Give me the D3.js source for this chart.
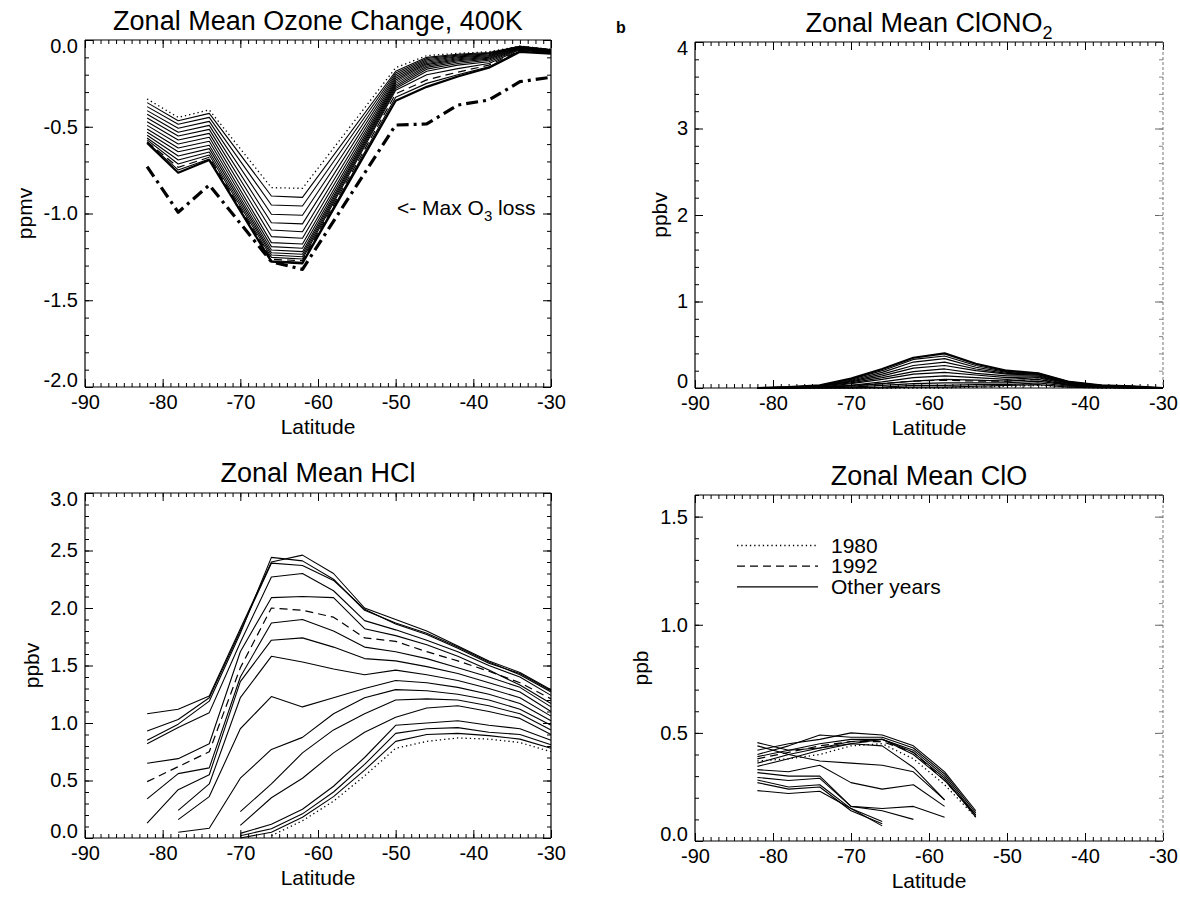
<!DOCTYPE html>
<html><head><meta charset="utf-8">
<script src="https://cdn.jsdelivr.net/npm/d3@7"></script>
<style>
body{margin:0;background:#fff;}
svg text{font-family:"Liberation Sans",Arial,Helvetica,sans-serif;fill:#000;}
</style></head>
<body><svg id="c" width="1180" height="897"></svg>
<script>
// ---------- shared ----------
const xTicks = [-90,-80,-70,-60,-50,-40,-30];

// ---------- Ozone change (ppmv) ----------
const ozoneLat = [-82,-78,-74,-66,-62,-50,-46,-42,-38,-34,-30];
const ozone1980 = [-0.34,-0.446,-0.403,-0.851,-0.855,-0.16,-0.09,-0.077,-0.068,-0.035,-0.054];
const ozone1992 = [-0.586,-0.734,-0.676,-1.264,-1.272,-0.31,-0.23,-0.185,-0.145,-0.06,-0.074];
const ozoneMaxLoss = [-0.73,-0.993,-0.836,-1.278,-1.322,-0.49,-0.484,-0.375,-0.346,-0.24,-0.215];
const ozoneOther = [
  [-0.361,-0.465,-0.423,-0.899,-0.907,-0.18,-0.10,-0.082,-0.072,-0.036,-0.055],
  [-0.384,-0.486,-0.446,-0.951,-0.957,-0.19,-0.107,-0.087,-0.076,-0.037,-0.056],
  [-0.407,-0.509,-0.469,-1.004,-1.010,-0.20,-0.114,-0.092,-0.080,-0.038,-0.057],
  [-0.428,-0.532,-0.492,-1.053,-1.060,-0.21,-0.121,-0.097,-0.085,-0.040,-0.058],
  [-0.450,-0.553,-0.515,-1.095,-1.105,-0.22,-0.128,-0.102,-0.090,-0.041,-0.060],
  [-0.471,-0.576,-0.538,-1.133,-1.143,-0.23,-0.135,-0.108,-0.095,-0.042,-0.061],
  [-0.492,-0.599,-0.561,-1.168,-1.176,-0.24,-0.142,-0.114,-0.100,-0.044,-0.062],
  [-0.513,-0.622,-0.584,-1.191,-1.200,-0.25,-0.150,-0.120,-0.105,-0.046,-0.064],
  [-0.532,-0.644,-0.607,-1.210,-1.220,-0.26,-0.158,-0.127,-0.110,-0.048,-0.066],
  [-0.549,-0.669,-0.626,-1.226,-1.235,-0.27,-0.168,-0.135,-0.117,-0.050,-0.068],
  [-0.565,-0.692,-0.646,-1.239,-1.249,-0.28,-0.180,-0.145,-0.125,-0.053,-0.070],
  [-0.576,-0.715,-0.663,-1.253,-1.262,-0.29,-0.200,-0.165,-0.135,-0.056,-0.072],
  [-0.590,-0.749,-0.686,-1.272,-1.281,-0.33,-0.250,-0.200,-0.155,-0.064,-0.076],
  [-0.594,-0.765,-0.692,-1.278,-1.287,-0.35,-0.270,-0.210,-0.160,-0.068,-0.078]
];

// ---------- ClONO2 (ppbv) ----------
const clono2Lat = [-82,-78,-74,-70,-66,-62,-58,-54,-50,-46,-42,-38,-34,-30];
const clono2_1980 = [0,0,0,0,0,0,0,0.01,0.02,0.03,0.01,0,0,0];
const clono2_1992 = [0,0,0.01,0.03,0.05,0.08,0.09,0.08,0.08,0.10,0.04,0.02,0.01,0];
const clono2Other = [
  [0.00,0.01,0.03,0.11,0.22,0.35,0.40,0.28,0.20,0.17,0.07,0.03,0.02,0.00],
  [0.00,0.01,0.03,0.10,0.20,0.33,0.37,0.26,0.19,0.17,0.07,0.03,0.02,0.00],
  [0.00,0.01,0.02,0.09,0.18,0.30,0.34,0.24,0.18,0.16,0.06,0.03,0.02,0.00],
  [0.00,0.01,0.02,0.08,0.16,0.26,0.30,0.22,0.17,0.16,0.06,0.03,0.01,0.00],
  [0.00,0.00,0.02,0.07,0.14,0.23,0.26,0.20,0.16,0.15,0.06,0.02,0.01,0.00],
  [0.00,0.00,0.02,0.06,0.12,0.19,0.22,0.17,0.14,0.14,0.05,0.02,0.01,0.00],
  [0.00,0.00,0.01,0.05,0.10,0.16,0.18,0.15,0.12,0.13,0.05,0.02,0.01,0.00],
  [0.00,0.00,0.01,0.03,0.07,0.12,0.14,0.12,0.10,0.12,0.04,0.02,0.01,0.00],
  [0.00,0.00,0.01,0.02,0.05,0.08,0.10,0.09,0.08,0.10,0.03,0.01,0.00,0.00],
  [0.00,0.00,0.00,0.01,0.03,0.05,0.06,0.06,0.06,0.08,0.03,0.01,0.00,0.00],
  [0.00,0.00,0.00,0.00,0.01,0.03,0.03,0.04,0.04,0.06,0.02,0.01,0.00,0.00],
  [0.00,0.00,0.00,0.00,0.00,0.01,0.01,0.02,0.03,0.04,0.01,0.00,0.00,0.00]
];

// ---------- HCl (ppbv) ----------
const hclLat = [-82,-78,-74,-70,-66,-62,-58,-54,-50,-46,-42,-38,-34,-30];
const hcl1980 = [null,null,null,null,0.02,0.15,0.32,0.54,0.78,0.84,0.87,0.86,0.83,0.75];
const hcl1992 = [0.49,0.62,0.75,1.48,2.00,1.98,1.92,1.74,1.71,1.62,1.54,1.45,1.35,1.21];
const hclOther = [
  [1.08,1.12,1.235,1.82,2.40,2.46,2.30,2.00,1.90,1.80,1.67,1.54,1.44,1.29],
  [0.93,1.03,1.22,1.80,2.39,2.37,2.24,1.99,1.86,1.77,1.65,1.52,1.43,1.28],
  [0.85,0.99,1.19,1.78,2.44,2.41,2.25,1.98,1.87,1.78,1.66,1.53,1.42,1.27],
  [0.82,0.96,1.09,1.70,2.27,2.30,2.15,1.89,1.81,1.72,1.62,1.50,1.40,1.24],
  [0.65,0.69,0.82,1.62,2.09,2.10,2.09,1.82,1.76,1.68,1.58,1.46,1.33,1.17],
  [0.34,0.56,0.61,1.40,1.87,1.90,1.80,1.66,1.62,1.56,1.48,1.40,1.31,1.14],
  [0.13,0.42,0.55,1.36,1.72,1.74,1.66,1.56,1.54,1.49,1.43,1.35,1.27,1.10],
  [null,0.24,0.47,1.22,1.58,1.53,1.47,1.42,1.46,1.42,1.37,1.30,1.22,1.06],
  [null,0.16,0.36,0.95,1.23,1.14,1.22,1.30,1.37,1.35,1.31,1.25,1.17,1.02],
  [null,0.05,0.085,0.52,0.77,0.875,1.08,1.22,1.29,1.28,1.25,1.20,1.12,0.98],
  [null,null,null,0.23,0.47,0.74,0.94,1.08,1.20,1.21,1.20,1.15,1.08,0.94],
  [null,null,null,0.11,0.35,0.52,0.74,0.92,1.05,1.13,1.15,1.10,1.04,0.90],
  [null,null,null,0.04,0.12,0.25,0.45,0.70,0.98,1.00,1.02,0.98,0.95,0.85],
  [null,null,null,0.02,0.08,0.21,0.40,0.64,0.91,0.95,0.96,0.92,0.90,0.81],
  [null,null,null,0.00,0.05,0.18,0.36,0.59,0.84,0.90,0.91,0.89,0.86,0.78]
];

// ---------- ClO (ppb) ----------
const cloLat = [-82,-78,-74,-70,-66,-62,-58,-54];
const clo1980 = [0.37,0.38,0.40,0.44,0.45,0.38,0.26,0.11];
const clo1992 = [0.38,0.41,0.44,0.46,0.46,0.41,0.28,0.12];
const cloOther = [
  [0.42,0.45,0.47,0.50,0.49,0.44,0.32,0.14],
  [0.40,0.44,0.49,0.48,0.48,0.43,0.31,0.13],
  [0.39,0.42,0.45,0.47,0.47,0.42,0.30,0.12],
  [0.36,0.40,0.43,0.46,0.47,0.41,0.29,0.11],
  [0.345,0.38,0.42,0.45,0.47,0.40,0.28,0.12],
  [0.455,0.42,0.43,0.45,0.44,0.34,0.19,null],
  [0.44,0.40,0.37,0.36,0.35,0.32,0.19,null],
  [0.33,0.32,0.35,0.27,0.24,0.26,0.16,null],
  [0.294,0.28,0.29,0.16,0.15,0.16,0.11,null],
  [0.316,0.30,0.30,0.16,0.14,0.10,null,null],
  [0.282,0.25,0.26,0.15,0.09,null,null,null],
  [0.27,0.24,0.25,0.14,0.08,null,null,null],
  [0.233,0.22,0.23,0.15,0.07,null,null,null]
];
const legendLabels = ["1980","1992","Other years"];

// ---------- drawing ----------
const svg = d3.select("#c");
const FONT = '"Liberation Sans",Arial,Helvetica,sans-serif';
const STY = {
  solid:{w:1.1,dash:null},
  dotted:{w:1.3,dash:"1.3,3"},
  dashed:{w:1.2,dash:"8,5"},
  dashdot:{w:3.2,dash:"12,5,3,5"}
};

function panel(cfg){
  const g = svg.append("g");
  const x = d3.scaleLinear().domain([-90,-30]).range([cfg.x0,cfg.x1]);
  const y = d3.scaleLinear().domain(cfg.yDomain).range([cfg.yb,cfg.yt]);
  const xMinor = d3.range(-90,-29,1);
  const yMinor = cfg.yMinor;
  const style = sel => { sel.select(".domain").remove(); sel.attr("font-family",FONT).attr("font-size",20);
    sel.selectAll("line").attr("stroke","#000").attr("stroke-width",1); };
  // bottom
  g.append("g").attr("transform",`translate(0,${cfg.yb})`)
    .call(d3.axisBottom(x).tickValues(xTicks).tickSize(-8).tickPadding(8).tickFormat(d=>String(d))).call(style);
  g.append("g").attr("transform",`translate(0,${cfg.yb})`)
    .call(d3.axisBottom(x).tickValues(xMinor).tickSize(-4).tickFormat("")).call(style);
  // top
  g.append("g").attr("transform",`translate(0,${cfg.yt})`)
    .call(d3.axisTop(x).tickValues(xTicks).tickSize(-8).tickFormat("")).call(style);
  g.append("g").attr("transform",`translate(0,${cfg.yt})`)
    .call(d3.axisTop(x).tickValues(xMinor).tickSize(-4).tickFormat("")).call(style);
  // left
  const la = g.append("g").attr("transform",`translate(${cfg.x0},0)`)
    .call(d3.axisLeft(y).tickValues(cfg.yTicks).tickSize(-8).tickPadding(7).tickFormat(cfg.fmt)).call(style);
  la.selectAll(".tick text").attr("dy",d=>{
    if (d===cfg.yDomain[1]) return "0.62em";
    if (d===cfg.yDomain[0]) return "-0.02em";
    return "0.32em";});
  g.append("g").attr("transform",`translate(${cfg.x0},0)`)
    .call(d3.axisLeft(y).tickValues(yMinor).tickSize(-4).tickFormat("")).call(style);
  // right
  const ra = g.append("g").attr("transform",`translate(${cfg.x1},0)`)
    .call(d3.axisRight(y).tickValues(cfg.yTicks).tickSize(-8).tickFormat("")).call(style);
  const rb = g.append("g").attr("transform",`translate(${cfg.x1},0)`)
    .call(d3.axisRight(y).tickValues(yMinor).tickSize(-4).tickFormat("")).call(style);
  if (cfg.faintRight){ ra.selectAll("line").attr("stroke","#666"); rb.selectAll("line").attr("stroke","#888"); }
  // frame
  const fr = g.append("g").attr("fill","none").attr("stroke","#000").attr("stroke-width",1.2);
  fr.append("line").attr("x1",cfg.x0).attr("x2",cfg.x1).attr("y1",cfg.yb).attr("y2",cfg.yb);
  fr.append("line").attr("x1",cfg.x0).attr("x2",cfg.x1).attr("y1",cfg.yt).attr("y2",cfg.yt);
  fr.append("line").attr("x1",cfg.x0).attr("x2",cfg.x0).attr("y1",cfg.yt).attr("y2",cfg.yb);
  const rl = fr.append("line").attr("x1",cfg.x1).attr("x2",cfg.x1).attr("y1",cfg.yt).attr("y2",cfg.yb);
  if (cfg.faintRight) rl.attr("stroke","#777").attr("stroke-width",1).attr("stroke-dasharray","3,2");
  // titles
  const t = g.append("text").attr("x",(cfg.x0+cfg.x1)/2).attr("y",cfg.titleY)
    .attr("text-anchor","middle").attr("font-size",27);
  t.append("tspan").text(cfg.title);
  if (cfg.titleSub){ t.append("tspan").attr("dy",7).attr("font-size",18).text(cfg.titleSub); }
  g.append("text").attr("x",(cfg.x0+cfg.x1)/2).attr("y",cfg.yb+47)
    .attr("text-anchor","middle").attr("font-size",21).text("Latitude");
  g.append("text").attr("transform",`translate(${cfg.ylabX},${(cfg.yt+cfg.yb)/2}) rotate(-90)`)
    .attr("text-anchor","middle").attr("dy","0.35em").attr("font-size",21).text(cfg.ylabel);
  // lines
  const lines = g.append("g").attr("fill","none").attr("stroke","#000")
    .attr("stroke-linejoin","round");
  const gen = d3.line().defined(d=>d[1]!==null).x(d=>x(d[0])).y(d=>y(d[1]));
  function draw(lat, vals, st, w){
    const s = STY[st];
    lines.append("path").attr("d",gen(lat.map((l,i)=>[l,vals[i]])))
      .attr("stroke-width",w||s.w).attr("stroke-dasharray",s.dash);
  }
  return {x,y,g,draw};
}

// Panel a: Ozone
const p1 = panel({x0:85,x1:551,yt:40,yb:387,yDomain:[-2,0],
  yTicks:[-2,-1.5,-1,-0.5,0], yMinor:d3.range(0,21).map(i=>-i/10), fmt:d=>d.toFixed(1),
  title:"Zonal Mean Ozone Change, 400K", titleY:30, ylabel:"ppmv", ylabX:25});
ozoneOther.forEach((v,i)=>p1.draw(ozoneLat,v,"solid", i===ozoneOther.length-1?2.2:1.1));
p1.draw(ozoneLat,ozone1992,"dashed");
p1.draw(ozoneLat,ozone1980,"dotted");
p1.draw(ozoneLat,ozoneMaxLoss,"dashdot");
const ml = p1.g.append("text").attr("x",397).attr("y",215).attr("font-size",21);
ml.append("tspan").text("<- Max O");
ml.append("tspan").attr("dy",6).attr("font-size",15).text("3");
ml.append("tspan").attr("dy",-6).text(" loss");

// Panel b: ClONO2
const p2 = panel({x0:695,x1:1163,yt:42,yb:388,yDomain:[0,4],
  yTicks:[0,1,2,3,4], yMinor:d3.range(0,21).map(i=>i/5), fmt:d=>String(d),
  title:"Zonal Mean ClONO", titleSub:"2", titleY:32, ylabel:"ppbv", ylabX:660, faintRight:true});
clono2Other.forEach((v,i)=>p2.draw(clono2Lat,v,"solid", i===0?2.2:1.2));
p2.draw(clono2Lat,clono2_1992,"dashed");
p2.draw(clono2Lat,clono2_1980,"dotted");
svg.append("text").attr("x",616).attr("y",33).attr("font-size",16).attr("font-weight","bold").text("b");

// Panel c: HCl
const p3 = panel({x0:85,x1:551,yt:493,yb:838,yDomain:[0,3],
  yTicks:[0,0.5,1,1.5,2,2.5,3], yMinor:d3.range(0,31).map(i=>i/10), fmt:d=>d.toFixed(1),
  title:"Zonal Mean HCl", titleY:482, ylabel:"ppbv", ylabX:32});
hclOther.forEach(v=>p3.draw(hclLat,v,"solid"));
p3.draw(hclLat,hcl1992,"dashed");
p3.draw(hclLat,hcl1980,"dotted");

// Panel d: ClO
const p4 = panel({x0:695,x1:1163,yt:495,yb:841,yDomain:[0,1.6],
  yTicks:[0,0.5,1,1.5], yMinor:d3.range(0,17).map(i=>i/10), fmt:d=>d.toFixed(1),
  title:"Zonal Mean ClO", titleY:485, ylabel:"ppb", ylabX:641, faintRight:true});
cloOther.forEach(v=>p4.draw(cloLat,v,"solid"));
p4.draw(cloLat,clo1992,"dashed");
p4.draw(cloLat,clo1980,"dotted");
// legend
const legStyles = ["dotted","dashed","solid"];
const leg = p4.g.append("g");
legStyles.forEach((st,i)=>{
  const yy = 545.5 + i*20.7;
  leg.append("line").attr("x1",737).attr("x2",818).attr("y1",yy).attr("y2",yy)
    .attr("stroke","#000").attr("stroke-width",STY[st].w).attr("stroke-dasharray",STY[st].dash);
  leg.append("text").attr("x",831).attr("y",yy+7).attr("font-size",21).text(legendLabels[i]);
});
</script></body></html>
